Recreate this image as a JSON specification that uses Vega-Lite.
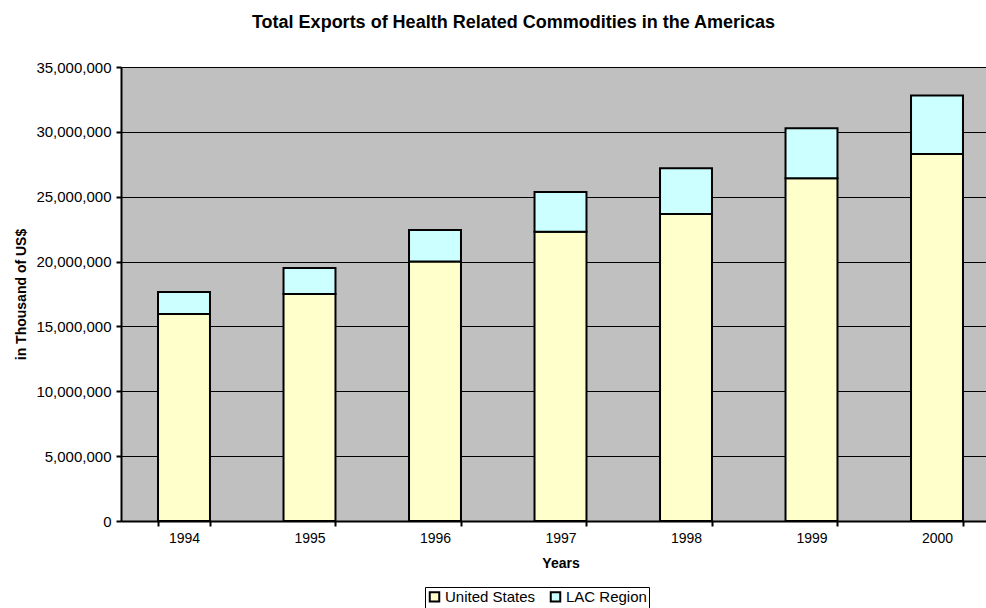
{
  "$schema": "https://vega.github.io/schema/vega-lite/v6.json",
  "autosize": "none",
  "width": 865,
  "height": 454,
  "padding": {"left": 121, "top": 67, "right": 0, "bottom": 87},
  "background": "white",
  "title": {
    "text": "Total Exports of Health Related Commodities in the Americas",
    "font": "Liberation Sans",
    "fontSize": 18,
    "fontWeight": "bold",
    "color": "black",
    "anchor": "middle",
    "offset": 28,
    "dx": -40
  },
  "config": {
    "view": {"fill": "#C0C0C0", "stroke": null},
    "font": "Liberation Sans"
  },
  "data": {
    "values": [
      {"year": "1994", "series": "United States", "value": 15960000},
      {"year": "1994", "series": "LAC Region", "value": 1700000},
      {"year": "1995", "series": "United States", "value": 17500000},
      {"year": "1995", "series": "LAC Region", "value": 2000000},
      {"year": "1996", "series": "United States", "value": 20000000},
      {"year": "1996", "series": "LAC Region", "value": 2440000},
      {"year": "1997", "series": "United States", "value": 22300000},
      {"year": "1997", "series": "LAC Region", "value": 3070000},
      {"year": "1998", "series": "United States", "value": 23670000},
      {"year": "1998", "series": "LAC Region", "value": 3530000},
      {"year": "1999", "series": "United States", "value": 26420000},
      {"year": "1999", "series": "LAC Region", "value": 3860000},
      {"year": "2000", "series": "United States", "value": 28300000},
      {"year": "2000", "series": "LAC Region", "value": 4500000}
    ]
  },
  "mark": {"type": "bar", "stroke": "black", "strokeWidth": 2},
  "encoding": {
    "x": {
      "field": "year",
      "type": "ordinal",
      "scale": {"paddingInner": 0.586, "paddingOuter": 0.295, "range": [0, 879]},
      "axis": {
        "title": "Years",
        "titleFont": "Liberation Sans",
        "titleFontSize": 14,
        "titleFontWeight": "bold",
        "titleColor": "black",
        "titlePadding": 11,
        "labelAngle": 0,
        "labelFont": "Liberation Sans",
        "labelFontSize": 14,
        "labelColor": "black",
        "labelPadding": 5,
        "domainColor": "black",
        "domainWidth": 2,
        "tickColor": "black",
        "tickWidth": 2,
        "tickSize": 5,
        "tickBand": "extent",
        "grid": false
      }
    },
    "y": {
      "field": "value",
      "type": "quantitative",
      "stack": "zero",
      "scale": {"domain": [0, 35000000], "nice": false},
      "axis": {
        "title": "in Thousand of US$",
        "titleFont": "Liberation Sans",
        "titleFontSize": 14,
        "titleFontWeight": "bold",
        "titleColor": "black",
        "titlePadding": 7,
        "values": [0, 5000000, 10000000, 15000000, 20000000, 25000000, 30000000, 35000000],
        "format": ",d",
        "labelFont": "Liberation Sans",
        "labelFontSize": 15,
        "labelColor": "black",
        "labelPadding": 5,
        "domainColor": "black",
        "domainWidth": 2,
        "tickColor": "black",
        "tickWidth": 2,
        "tickSize": 5,
        "grid": true,
        "gridColor": "black",
        "gridWidth": 1,
        "gridOpacity": 1
      }
    },
    "color": {
      "field": "series",
      "type": "nominal",
      "scale": {"domain": ["United States", "LAC Region"], "range": ["#FFFFCC", "#CCFFFF"]},
      "legend": {
        "title": null,
        "orient": "none",
        "legendX": 304,
        "legendY": 520,
        "direction": "horizontal",
        "symbolType": "square",
        "symbolSize": 90,
        "symbolStrokeColor": "black",
        "symbolStrokeWidth": 2,
        "symbolOpacity": 1,
        "labelFont": "Liberation Sans",
        "labelFontSize": 15,
        "labelColor": "black",
        "labelOffset": 3,
        "columnPadding": 10,
        "padding": 2,
        "strokeColor": "black",
        "fillColor": "white"
      }
    },
    "order": {"field": "series", "sort": "descending"}
  }
}
